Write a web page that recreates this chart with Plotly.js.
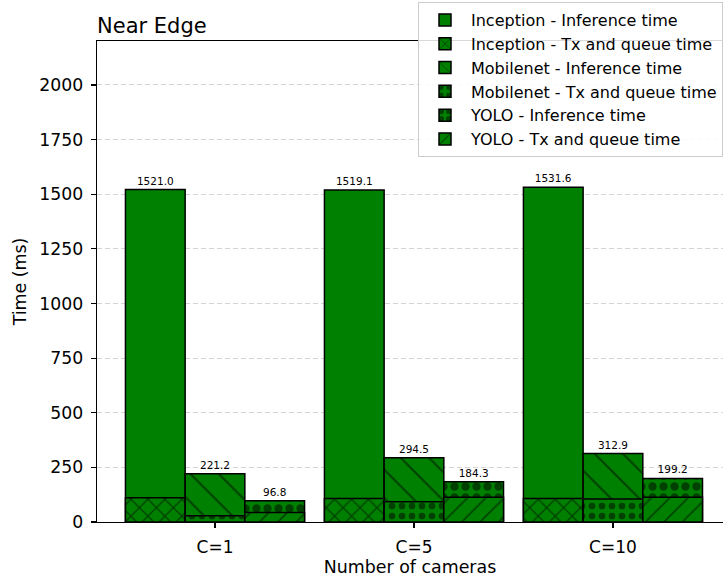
<!DOCTYPE html>
<html>
<head>
<meta charset="utf-8">
<script src="https://cdn.plot.ly/plotly-3.0.1.min.js"></script>
<style>html,body{margin:0;padding:0;overflow:hidden;background:#fff}</style>
</head>
<body>
<div id="chart" style="width:723px;height:578px"></div>
<script>
const categories = ['C=1', 'C=5', 'C=10'];
const inceptionTotal = [1521.0, 1519.1, 1531.6];
const inceptionTx = [111, 108, 108];
const mobilenetTotal = [221.2, 294.5, 312.9];
const mobilenetTx = [29, 93, 105];
const yoloTotal = [96.8, 184.3, 199.2];
const yoloTx = [44, 113, 113];
const seriesNames = [
  'Inception - Inference time', 'Inception - Tx and queue time',
  'Mobilenet - Inference time', 'Mobilenet - Tx and queue time',
  'YOLO - Inference time', 'YOLO - Tx and queue time'
];

const GREEN = '#008000';
const W = 0.3;
function bar(name, y, offset, shape, size, sol, labels) {
  const t = {
    type: 'bar', name: name, x: categories, y: y,
    width: W, offset: offset,
    marker: {
      color: GREEN,
      line: {color: '#000', width: 1.5},
      pattern: {shape: shape, fgcolor: '#000', bgcolor: GREEN, fillmode: 'overlay', size: size, solidity: sol}
    },
    hoverinfo: 'y'
  };
  if (labels) {
    t.text = y.map(v => v.toFixed(1));
    t.textposition = 'outside';
    t.textfont = {size: 10.5, color: '#000', family: 'DejaVu Sans'};
    t.cliponaxis = false;
  }
  return t;
}

const data = [
  bar(seriesNames[0], inceptionTotal, -0.45, '', 10, 0.2, true),
  bar(seriesNames[1], inceptionTx, -0.45, 'x', 12, 0.2, false),
  bar(seriesNames[2], mobilenetTotal, -0.15, '\\', 20, 0.1, true),
  bar(seriesNames[3], mobilenetTx, -0.15, '.', 10, 0.35, false),
  bar(seriesNames[4], yoloTotal, 0.15, '.', 11, 0.45, true),
  bar(seriesNames[5], yoloTx, 0.15, '/', 13, 0.12, false)
];

const layout = {
  width: 723, height: 578,
  margin: {l: 97, r: 0, t: 41, b: 56},
  paper_bgcolor: '#fff', plot_bgcolor: '#fff',
  font: {family: 'DejaVu Sans', size: 17, color: '#000'},
  barmode: 'overlay',
  bargap: 0,
  showlegend: true,
  title: {text: 'Near Edge', x: 97/723, xanchor: 'left', xref: 'container', y: 1, yref: 'paper', yanchor: 'bottom', pad: {b: 8}, font: {size: 21, family: 'DejaVu Sans'}},
  xaxis: {
    type: 'category', range: [-0.593, 2.553],
    showline: true, linecolor: '#000', linewidth: 1.2, mirror: true,
    ticks: 'outside', ticklen: 5, tickcolor: '#000', tickwidth: 1.2,
    ticklabelstandoff: 4,
    showgrid: false, zeroline: false, automargin: false,
    tickfont: {size: 17},
    title: {text: 'Number of cameras', font: {size: 17.4}, standoff: 3}
  },
  yaxis: {
    range: [0, 2201],
    tickvals: [0, 250, 500, 750, 1000, 1250, 1500, 1750, 2000],
    showline: true, linecolor: '#000', linewidth: 1.2, mirror: false,
    ticks: 'outside', ticklen: 5, tickcolor: '#000', tickwidth: 1.2,
    ticklabelstandoff: 4,
    showgrid: true, gridcolor: '#d3d3d3', griddash: '5px,3px', gridwidth: 1,
    zeroline: false, automargin: false,
    tickfont: {size: 17.3},
    title: {text: 'Time (ms)', font: {size: 17.4}, standoff: 8}
  },
  legend: {
    x: 1, xanchor: 'right', xref: 'paper',
    y: 1.081, yanchor: 'top', yref: 'paper',
    bgcolor: 'rgba(255,255,255,0.85)', bordercolor: '#cccccc', borderwidth: 1,
    font: {size: 16, family: 'DejaVu Sans'},
    tracegroupgap: 0, itemwidth: 42, traceorder: 'normal'
  }
};

Plotly.newPlot('chart', data, layout, {displayModeBar: false, staticPlot: true});
</script>
</body>
</html>
